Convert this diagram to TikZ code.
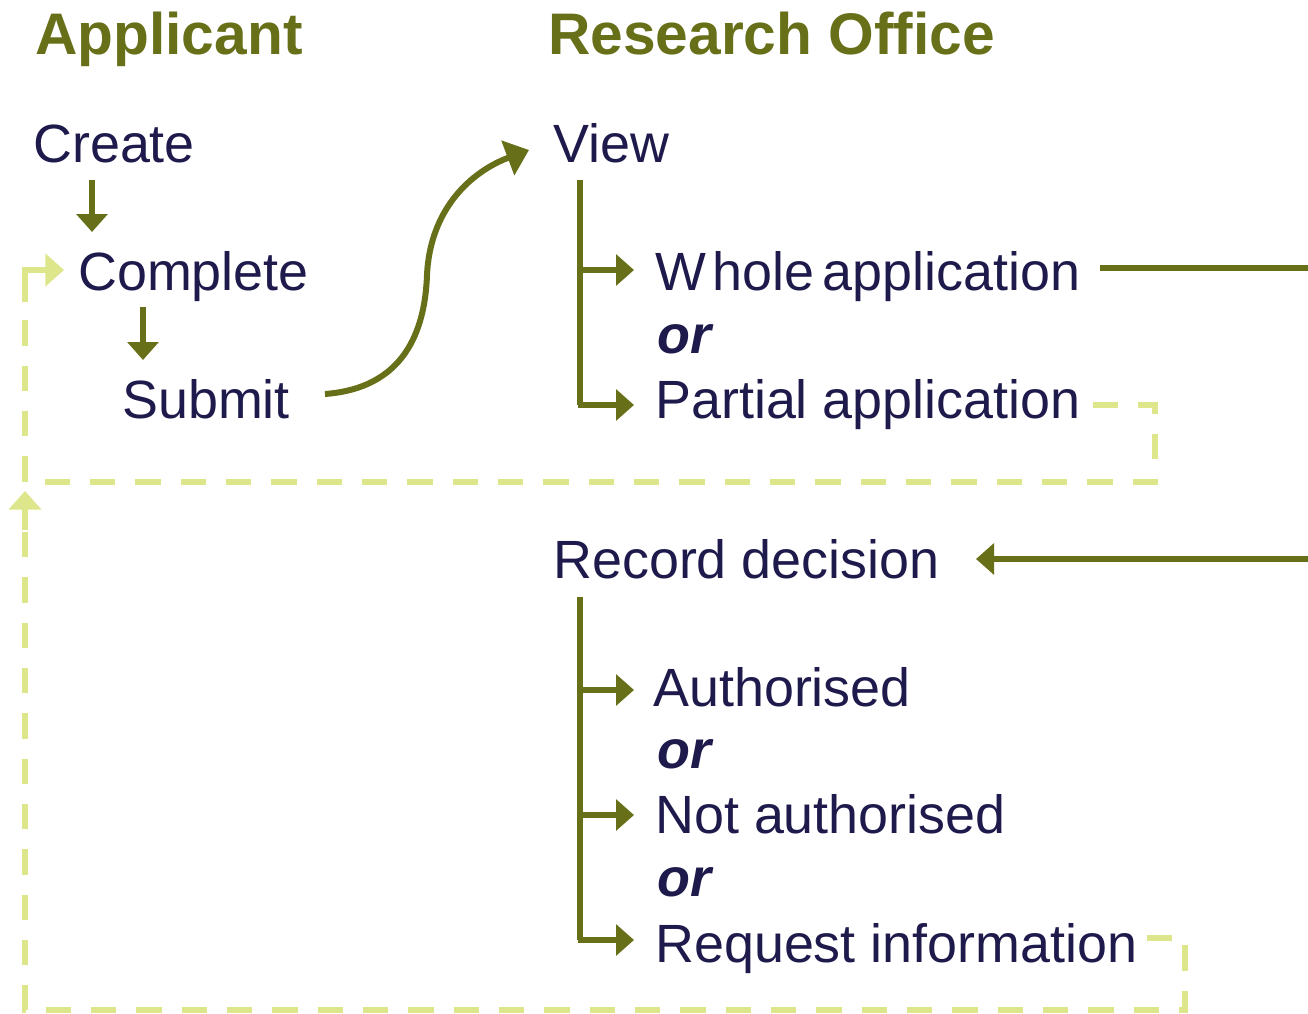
\documentclass[tikz,border=0pt]{standalone}
\usepackage{fontspec}
\setmainfont{Liberation Sans}
\usetikzlibrary{arrows.meta}
\definecolor{olive}{HTML}{677019}
\definecolor{pale}{HTML}{DDE68A}
\definecolor{ink}{HTML}{1E1A4C}
\tikzset{
  txt/.style={anchor=base west, inner sep=0pt, text=ink, font=\fontsize{40.4}{48}\selectfont},
  head/.style={anchor=base west, inner sep=0pt, text=olive, font=\fontsize{44}{52}\selectfont\bfseries},
  orr/.style={anchor=base west, inner sep=0pt, text=ink, font=\fontsize{40.4}{48}\selectfont\bfseries\itshape},
  solidarr/.style={draw=olive, line width=4.5pt, -{Triangle[length=13.5pt,width=23pt]}},
  solidln/.style={draw=olive, line width=4.5pt},
  dashln/.style={draw=pale, line width=3.8pt, dash pattern=on 19pt off 15pt},
  paletip/.style={draw=pale, line width=3.8pt, solid, -{Triangle[length=14pt,width=24pt]}},
}
\begin{document}
\begin{tikzpicture}[x=0.75pt,y=-0.75pt]
\useasboundingbox (0,0) rectangle (1308,1013);
% headings
\node[head] (appl) at (35,55) {Applicant};
\node[head] (ro) at (548,55) {Research Office};
% applicant
\node[txt] (create) at (33,162) {Create};
\node[txt] (complete) at (78,290) {Complete};
\node[txt] (submit) at (122,418) {Submit};
% research office
\node[txt] (view) at (553,162) {View};
\node[txt] (whole) at (655,290) {W\kern5pt hole\hspace{-5pt} application};
\node[orr] (or1) at (657,353) {or};
\node[txt] (partial) at (655,418) {Partial application};
\node[txt] (record) at (553,578) {Record decision};
\node[txt] (auth) at (653,706) {Authorised};
\node[orr] (or2) at (657,768) {or};
\node[txt] (notauth) at (655,833) {Not authorised};
\node[orr] (or3) at (657,896) {or};
\node[txt] (req) at (655,962) {Request information};
% coordinates
\coordinate (c1) at (92,180); \coordinate (c2) at (92,232);
\coordinate (c3) at (143,307); \coordinate (c4) at (143,360);
\coordinate (s0) at (325,394); \coordinate (s1) at (427,275); \coordinate (s2) at (529,150);
\coordinate (v0) at (580,180); \coordinate (v1) at (580,270); \coordinate (v2) at (580,405);
\coordinate (w1) at (634,270); \coordinate (w2) at (634,405);
\coordinate (wl0) at (1100,268); \coordinate (wl1) at (1308,268);
\coordinate (rl0) at (1308,559); \coordinate (rl1) at (976,559);
\coordinate (r0) at (580,597); \coordinate (r1) at (580,690); \coordinate (r2) at (580,815); \coordinate (r3) at (580,940);
\coordinate (a1) at (634,690); \coordinate (a2) at (634,815); \coordinate (a3) at (634,940);
% solid arrows
\draw[solidarr] (c1) -- (c2);
\draw[solidarr] (c3) -- (c4);
\draw[draw=olive, line width=4.5pt, -{Triangle[length=17pt,width=27pt]}] (s0) .. controls (405,388) and (425,330) .. (s1) .. controls (430,210) and (470,172) .. (s2);
\draw[solidln] (v0) -- (v2);
\draw[solidarr] ([xshift=-2pt]v1) -- (w1);
\draw[solidarr] ([xshift=-1.6pt]v2) -- (w2);
\draw[solidln] (wl0) -- (wl1);
\draw[solidarr] (rl0) -- (rl1);
\draw[solidln] (r0) -- (r3);
\draw[solidarr] ([xshift=-2pt]r1) -- (a1);
\draw[solidarr] ([xshift=-2pt]r2) -- (a2);
\draw[solidarr] ([xshift=-1.6pt]r3) -- (a3);
% dashed return paths
\coordinate (d0) at (1093,405); \coordinate (d1) at (1155,405); \coordinate (d2) at (1155,482);
\coordinate (d3) at (25,482); \coordinate (d4) at (25,270); \coordinate (d5) at (64,270);
\coordinate (d4a) at (25,300);
\draw[dashln] (d0) -- (d1) -- (d2) -- (d3) -- (d4a);
\draw[draw=pale, line width=3.8pt] ([yshift=-1.4pt]d4a) -- (d4) -- ([xshift=2pt]d4);
\draw[paletip] ([xshift=-1.4pt]d4) -- (d5);
\coordinate (e0) at (1147,938); \coordinate (e1) at (1185,938); \coordinate (e2) at (1185,1010);
\coordinate (e3) at (25,1010); \coordinate (e4) at (25,491); \coordinate (e5) at (25,530);
\draw[dashln] (e0) -- (e1) -- (e2) -- (e3) -- (e5);
\draw[paletip] (e5) -- (e4);
\end{tikzpicture}
\end{document}
